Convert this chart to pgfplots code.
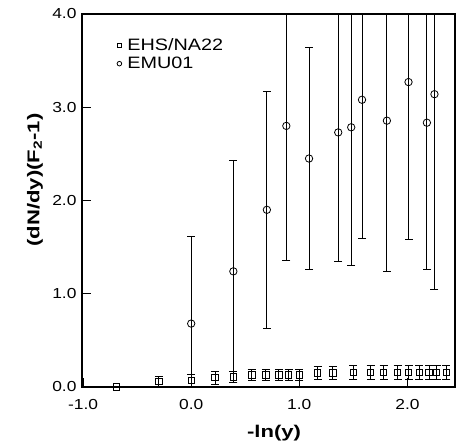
\documentclass[border=0pt]{standalone}
\usepackage{pgfplots}
\pgfplotsset{compat=1.18}
\usepackage{fontspec}
\setmainfont{Liberation Sans}
\newfontfamily\tickfont{Liberation Sans}[FakeStretch=1.2]
\newfontfamily\labfont{Liberation Sans}[FakeStretch=1.3]

\pgfplotstableread{
x y e
-0.69 0.00 0.0
-0.30 0.06 0.05
0.00 0.07 0.07
0.22 0.10 0.07
0.39 0.11 0.06
0.56 0.13 0.063
0.69 0.13 0.063
0.81 0.13 0.063
0.90 0.13 0.063
1.00 0.13 0.063
1.17 0.15 0.07
1.31 0.15 0.07
1.50 0.158 0.075
1.66 0.158 0.075
1.78 0.158 0.075
1.91 0.158 0.075
2.01 0.158 0.075
2.11 0.158 0.075
2.20 0.158 0.075
2.27 0.158 0.075
2.36 0.158 0.075
}\ehs

\pgfplotstableread{
x y e
0.00 0.68 0.93
0.39 1.24 1.19
0.70 1.90 1.27
0.88 2.80 1.44
1.09 2.45 1.19
1.36 2.73 1.38
1.48 2.785 1.48
1.58 3.08 1.49
1.81 2.856 1.62
2.01 3.27 1.69
2.18 2.834 1.57
2.25 3.14 2.09
}\emu

\begin{document}
\begin{tikzpicture}
\begin{axis}[
  scale only axis, width=373pt, height=373pt,
  xmin=-1.01, xmax=2.44, ymin=0, ymax=4,
  axis line style={line width=1.4pt},
  tick align=inside, xtick pos=bottom, ytick pos=left,
  major tick length=9pt,
  tick style={line width=1pt, black},
  xtick={-1,0,1,2}, ytick={0,1,2,3,4},
  xticklabel style={font=\fontsize{14.5}{16}\tickfont, yshift=-9pt},
  yticklabel style={font=\fontsize{14.5}{16}\tickfont, xshift=-2pt},
  /pgf/number format/.cd, fixed, fixed zerofill, precision=1, assume math mode=true,
  /pgfplots/.cd,
  xlabel={-ln(y)},
  ylabel={(dN/dy)(F\textsubscript{2}-1)},
  xlabel style={font=\fontsize{17}{20}\labfont\bfseries, at={(axis description cs:0.515,-0.123)}, anchor=center},
  ylabel style={font=\fontsize{17}{20}\labfont\bfseries, at={(axis description cs:-0.126,0.555)}, anchor=center},
  legend style={draw=none, fill=none, at={(axis description cs:0.085,0.945)}, anchor=north west,
    font=\fontsize{16.5}{18}\tickfont, row sep=1pt},
  legend cell align=left,
  legend image code/.code={\draw[#1, mark size=2.3pt] plot coordinates {(0pt,0pt)};
    \path[draw=none, fill=none] (-2.5pt,-2.5pt) rectangle (6pt,2.5pt);},
  error bars/error bar style={line width=0.8pt, black},
  error bars/error mark options={rotate=90, mark size=4pt, line width=0.8pt, black},
]
\addplot[only marks, mark=square, mark size=3.2pt, mark options={line width=0.8pt, black},
  error bars/.cd, y dir=both, y explicit]
  table[x=x, y=y, y error=e] {\ehs};
\addlegendentry{EHS/NA22}
\addplot[only marks, mark=o, mark size=3.7pt, mark options={line width=0.8pt, black},
  error bars/.cd, y dir=both, y explicit]
  table[x=x, y=y, y error=e] {\emu};
\addlegendentry{EMU01}
\end{axis}
\pgfresetboundingbox
\path (current axis.south west) ++(-82pt,-59pt) rectangle ++(456pt,446pt);
\end{tikzpicture}
\end{document}
